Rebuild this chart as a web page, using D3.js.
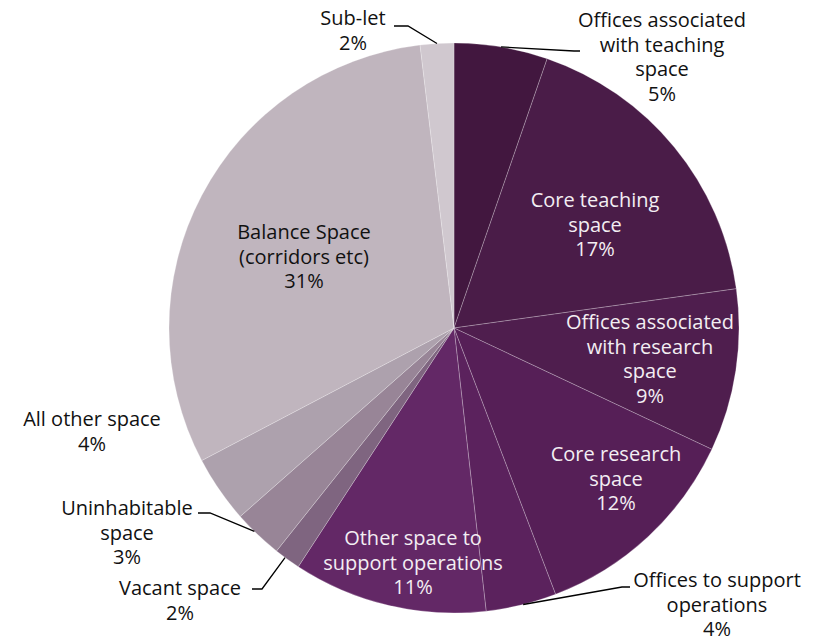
<!DOCTYPE html>
<html>
<head>
<meta charset="utf-8">
<script src="https://cdn.jsdelivr.net/npm/d3@7"></script>
<style>
  body { margin: 0; background: #fff; }
  svg { display: block; }
  text { font-family: "Open Sans", sans-serif; font-size: 20px; }
</style>
</head>
<body>
<svg id="pie" width="814" height="636"></svg>
<script>
// slice names, shares and shown labels
const categories = [
  'Offices associated with teaching space',
  'Core teaching space',
  'Offices associated with research space',
  'Core research space',
  'Offices to support operations',
  'Other space to support operations',
  'Vacant space',
  'Uninhabitable space',
  'All other space',
  'Balance Space (corridors etc)',
  'Sub-let'
];
const shares = [5.3, 17.5, 9.2, 12.2, 4.0, 11.0, 1.5, 2.8, 3.8, 30.8, 1.9];
const pctLabels = ['5%', '17%', '9%', '12%', '4%', '11%', '2%', '3%', '4%', '31%', '2%'];
const labelLines = [
  ['Offices associated', 'with teaching', 'space'],
  ['Core teaching', 'space'],
  ['Offices associated', 'with research', 'space'],
  ['Core research', 'space'],
  ['Offices to support', 'operations'],
  ['Other space to', 'support operations'],
  ['Vacant space'],
  ['Uninhabitable', 'space'],
  ['All other space'],
  ['Balance Space', '(corridors etc)'],
  ['Sub-let']
];
const colors = ['#42173f', '#4a1c48', '#4f1e4e', '#561f57', '#5b225d', '#632866',
  '#7f6580', '#988597', '#ada1ad', '#c0b5be', '#d0c8cf'];

const svg = d3.select('svg#pie'),
  cx = 454, cy = 328, r = 285;

// label layout: anchor point (top line baseline) + whether it sits inside
const labelPos = [
  {x: 662, y: 27, inside: false},
  {x: 595, y: 207, inside: true},
  {x: 650, y: 329, inside: true},
  {x: 616, y: 461, inside: true},
  {x: 717, y: 587, inside: false},
  {x: 413, y: 545, inside: true},
  {x: 180, y: 595, inside: false},
  {x: 127, y: 515, inside: false},
  {x: 92, y: 426, inside: false},
  {x: 304, y: 239, inside: false},
  {x: 353, y: 25, inside: false}
];
// leader lines: polyline from a point on the arc (as % of circle) to label
const leaders = {
  0: {a: 2.64, pts: [[574, 51], [580, 51]]},
  4: {a: 46.1, pts: [[622, 587], [630, 587]]},
  6: {a: 60.1, pts: [[262, 589], [252, 589]]},
  7: {a: 62.35, pts: [[210, 513], [198, 513]]},
  10: {a: 99.05, pts: [[408, 26], [394, 26]]}
};

const pie = d3.pie().sort(null).value(d => d);
const arcs = pie(shares);
const arc = d3.arc().innerRadius(0).outerRadius(r);

const g = svg.append('g').attr('transform', `translate(${cx},${cy})`);

g.selectAll('path.slice')
  .data(arcs)
  .enter()
  .append('path')
  .classed('slice', true)
  .attr('d', arc)
  .attr('fill', (d, i) => colors[i])
  .attr('stroke', 'rgba(255,255,255,0.4)')
  .attr('stroke-width', 0.6);

// percent-of-circle to angle
const ang = d3.scaleLinear().domain([0, 100]).range([0, 2 * Math.PI]);

Object.keys(leaders).forEach(k => {
  const L = leaders[k];
  const t = ang(L.a);
  const start = [cx + r * Math.sin(t), cy - r * Math.cos(t)];
  svg.append('polyline')
    .attr('points', [start].concat(L.pts).map(p => p.join(',')).join(' '))
    .attr('fill', 'none')
    .attr('stroke', '#000')
    .attr('stroke-width', 1.3);
});

const lineH = 24.6;
categories.forEach((c, i) => {
  const p = labelPos[i];
  const t = svg.append('text')
    .attr('text-anchor', 'middle')
    .attr('fill', p.inside ? '#f3eef3' : '#111');
  labelLines[i].concat([pctLabels[i]]).forEach((s, j) => {
    t.append('tspan').attr('x', p.x).attr('y', p.y + j * lineH).text(s);
  });
});
</script>
</body>
</html>
